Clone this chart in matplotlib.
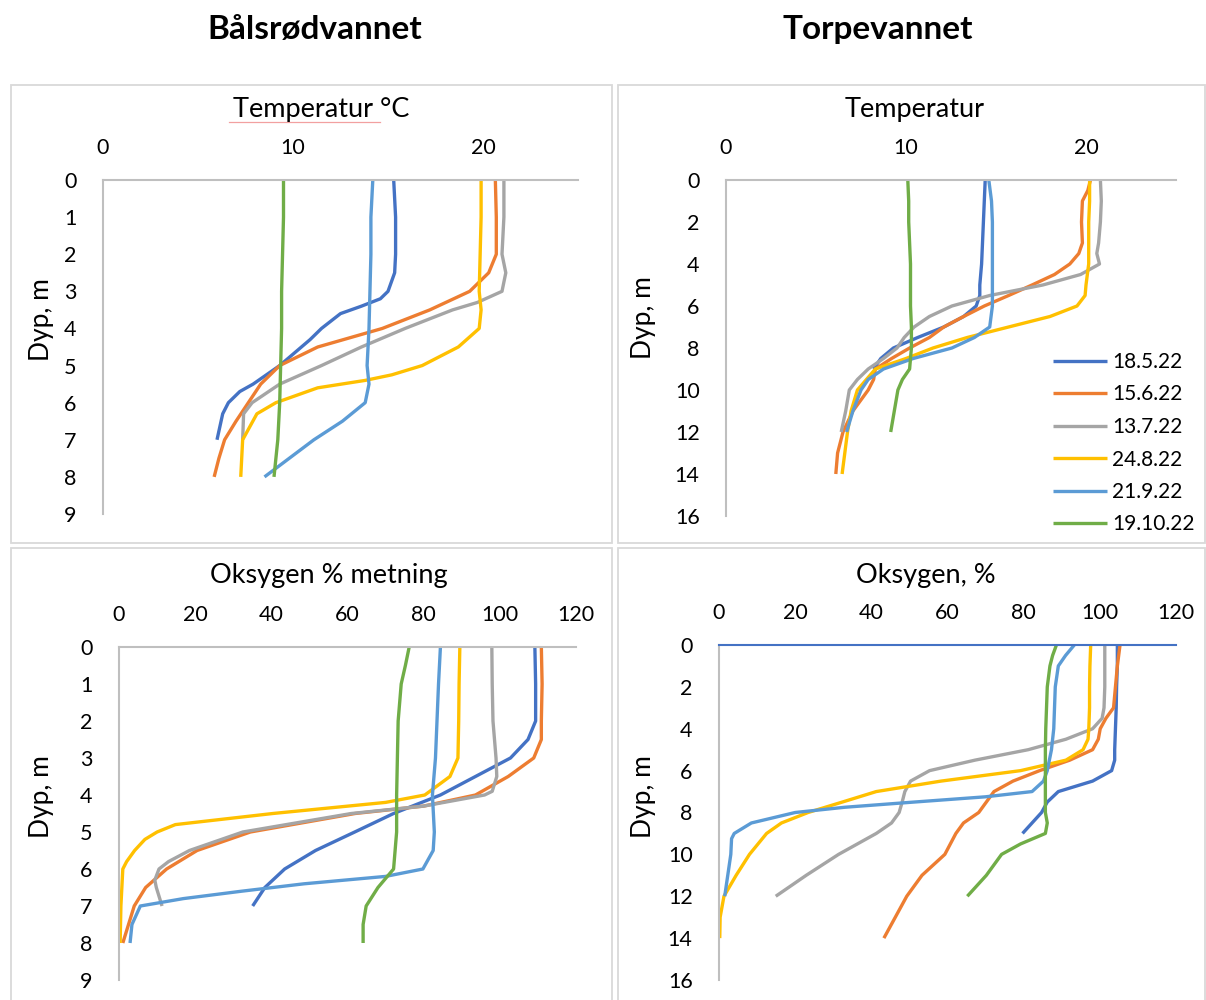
import matplotlib
matplotlib.use("Agg")
import matplotlib.pyplot as plt
from matplotlib.patches import Rectangle
from matplotlib.lines import Line2D

plt.rcParams['font.family'] = ['Lato', 'DejaVu Sans']

dates = ['18.5.22', '15.6.22', '13.7.22', '24.8.22', '21.9.22', '19.10.22']
colors = ['#4472C4', '#ED7D31', '#A5A5A5', '#FFC000', '#5B9BD5', '#70AD47']

# --- Bålsrødvannet, temperatur (depth m, degC) ---
bt_185_z = [0, 1, 2, 2.5, 3, 3.2, 3.4, 3.6, 4, 4.3, 5, 5.5, 5.7, 6, 6.3, 7]
bt_185 = [15.3, 15.4, 15.4, 15.35, 15.0, 14.6, 13.6, 12.5, 11.5, 10.9, 9.3, 7.9, 7.2, 6.6, 6.3, 6.0]
bt_156_z = [0, 1, 2, 2.5, 3, 3.5, 4, 4.5, 5, 5.5, 6, 6.5, 7, 7.5, 8]
bt_156 = [20.65, 20.7, 20.7, 20.3, 19.3, 17.2, 14.7, 11.3, 9.3, 8.3, 7.65, 7.0, 6.4, 6.1, 5.85]
bt_137_z = [0, 1, 2, 2.5, 3, 3.3, 3.5, 4, 4.5, 5, 5.5, 6, 6.3, 7]
bt_137 = [21.1, 21.1, 21.0, 21.2, 21.0, 19.7, 18.4, 15.9, 13.6, 11.5, 9.3, 7.85, 7.4, 7.35]
bt_248_z = [0, 1, 2, 3, 3.5, 4, 4.5, 5, 5.25, 5.4, 5.6, 6, 6.3, 7, 8]
bt_248 = [19.9, 19.9, 19.85, 19.8, 19.9, 19.8, 18.7, 16.8, 15.2, 13.8, 11.3, 9.1, 8.1, 7.35, 7.25]
bt_219_z = [0, 1, 2, 3, 4, 5, 5.5, 6, 6.5, 7, 7.5, 8]
bt_219 = [14.2, 14.1, 14.1, 14.05, 14.0, 13.9, 14.0, 13.8, 12.6, 11.1, 9.8, 8.5]
bt_1910_z = [0, 1, 2, 3, 4, 5, 6, 7, 8]
bt_1910 = [9.5, 9.5, 9.45, 9.4, 9.4, 9.35, 9.3, 9.2, 9.0]

# --- Torpevannet, temperatur ---
tt_185_z = [0, 1, 2, 3, 4, 5, 5.5, 6, 6.5, 7, 7.5, 8, 8.5, 9]
tt_185 = [14.4, 14.35, 14.3, 14.25, 14.2, 14.1, 14.1, 13.9, 13.2, 12.1, 10.65, 9.3, 8.6, 8.2]
tt_156_z = [0, 0.5, 1, 2, 3, 3.5, 4, 4.5, 5, 5.5, 6, 6.5, 7, 7.5, 8, 8.5, 9, 9.5, 10, 11, 12, 13, 14]
tt_156 = [20.25, 20.1, 19.8, 19.75, 19.8, 19.6, 19.1, 18.25, 17.0, 15.7, 14.35, 13.2, 12.1, 11.3,
          10.2, 9.2, 8.3, 8.2, 7.9, 7.05, 6.5, 6.2, 6.1]
tt_137_z = [0, 1, 2, 3, 3.5, 4, 4.5, 5, 5.5, 6, 6.5, 7, 7.5, 8, 8.5, 9, 9.5, 10, 11, 12]
tt_137 = [20.8, 20.85, 20.8, 20.7, 20.6, 20.75, 19.7, 17.6, 14.65, 12.55, 11.3, 10.45, 9.9, 9.5,
          8.75, 7.9, 7.3, 6.85, 6.65, 6.4]
tt_248_z = [0, 1, 2, 3, 4, 5, 5.5, 6, 6.5, 7, 7.5, 8, 8.5, 9, 10, 11, 12, 13, 14]
tt_248 = [20.2, 20.2, 20.15, 20.15, 20.15, 20.0, 19.95, 19.5, 18.0, 15.7, 13.4, 11.5, 10.0, 8.3,
          7.3, 6.95, 6.75, 6.6, 6.45]
tt_219_z = [0, 1, 2, 3, 4, 5, 6, 7, 7.5, 8, 8.5, 9, 9.5, 10, 11, 12]
tt_219 = [14.6, 14.75, 14.8, 14.8, 14.8, 14.8, 14.8, 14.65, 13.8, 12.55, 10.4, 8.75, 7.9, 7.5, 7.05, 6.7]
tt_1910_z = [0, 1, 2, 3, 4, 5, 6, 7, 8, 9, 9.5, 10, 11, 12]
tt_1910 = [10.1, 10.15, 10.15, 10.2, 10.25, 10.25, 10.25, 10.3, 10.3, 10.2, 9.8, 9.55, 9.35, 9.15]

# --- Bålsrødvannet, oksygen % metning ---
bo_185_z = [0, 1, 2, 2.5, 3, 3.5, 4, 4.5, 5, 5.5, 6, 6.5, 7]
bo_185 = [109.2, 109.4, 109.4, 107.4, 102.8, 93.6, 84.4, 72.1, 61.9, 51.6, 43.5, 38.3, 35.1]
bo_156_z = [0, 1, 2, 2.5, 3, 3.5, 4, 4.3, 4.5, 5, 5.5, 6, 6.5, 7, 7.5, 8]
bo_156 = [110.9, 111.1, 110.9, 110.9, 108.9, 102.2, 93.6, 80.0, 62.0, 34.5, 20.5, 12.5, 7.0, 4.0, 2.5, 1.0]
bo_137_z = [0, 1, 2, 3, 3.5, 3.9, 4, 4.3, 4.5, 5, 5.5, 5.8, 6, 6.3, 6.5, 7]
bo_137 = [97.9, 98.0, 98.2, 99.0, 99.2, 98.0, 96.0, 80.0, 61.0, 32.5, 18.5, 13.0, 10.5, 9.4, 9.8, 11.3]
bo_248_z = [0, 1, 2, 3, 3.5, 4, 4.2, 4.5, 4.8, 5, 5.2, 5.5, 5.8, 6, 7, 8]
bo_248 = [89.5, 89.3, 89.2, 89.0, 86.9, 80.3, 70.0, 40.4, 14.8, 10.0, 6.8, 4.1, 2.0, 1.0, 0.5, 0.3]
bo_219_z = [0, 1, 2, 3, 4, 5, 5.5, 6, 6.2, 6.4, 6.6, 6.8, 7, 7.5, 8]
bo_219 = [84.4, 83.9, 83.5, 83.1, 82.3, 82.8, 82.5, 79.8, 70.0, 48.6, 32.2, 16.9, 5.6, 3.4, 2.9]
bo_1910_z = [0, 0.5, 1, 2, 3, 4, 5, 6, 6.5, 7, 7.5, 8]
bo_1910 = [76.2, 75.2, 74.1, 73.3, 73.1, 72.9, 72.9, 72.1, 68.0, 64.9, 64.1, 64.1]

# --- Torpevannet, oksygen % ---
to_185_z = [0, 1, 2, 3, 4, 5, 5.5, 6, 6.5, 7, 7.5, 8, 8.5, 9]
to_185 = [104.6, 104.6, 104.4, 104.3, 104.1, 103.9, 103.9, 103.1, 98.1, 89.1, 86.2, 84.7, 82.2, 79.7]
to_156_z = [0, 1, 2, 3, 3.5, 4, 4.5, 5, 5.5, 6, 6.5, 7, 7.5, 8, 8.5, 9, 10, 11, 12, 13, 14]
to_156 = [105.3, 104.6, 104.1, 103.6, 101.6, 100.1, 99.6, 98.1, 92.1, 84.2, 77.2, 72.2, 70.2, 68.2,
          64.2, 62.2, 59.3, 53.3, 49.3, 46.3, 43.3]
to_137_z = [0, 1, 2, 3, 3.5, 4, 4.5, 5, 5.5, 6, 6.5, 7, 7.5, 8, 8.5, 9, 10, 11, 12]
to_137 = [101.3, 101.3, 101.3, 101.1, 100.6, 98.1, 91.1, 81.2, 67.2, 55.3, 50.3, 48.8, 48.1, 47.3,
          45.3, 41.3, 31.4, 22.9, 14.9]
to_248_z = [0, 1, 2, 3, 4, 4.5, 5, 5.5, 6, 6.5, 7, 7.5, 8, 8.5, 9, 10, 11, 12, 13, 14]
to_248 = [97.6, 97.4, 97.3, 97.3, 97.1, 96.9, 95.6, 91.1, 79.2, 58.3, 41.3, 32.4, 23.4, 16.4, 12.5,
          8.0, 4.5, 1.3, 0.3, 0.2]
to_219_z = [0, 0.5, 1, 2, 3, 4, 5, 6, 6.5, 7, 7.25, 7.5, 7.75, 8, 8.5, 9, 9.25, 10, 11, 12]
to_219 = [93.3, 91.0, 89.1, 88.3, 88.1, 87.9, 87.3, 86.2, 85.2, 82.2, 70.0, 51.3, 33.0, 20.0, 8.5,
          4.0, 3.3, 3.1, 2.3, 1.5]
to_1910_z = [0, 0.5, 1, 2, 3, 4, 5, 6, 7, 8, 8.5, 9, 9.5, 10, 11, 12]
to_1910 = [88.6, 87.6, 86.9, 86.2, 86.0, 85.8, 85.7, 85.7, 85.7, 85.7, 86.2, 85.7, 79.2, 74.2, 70.2, 65.2]

W, H = 1206, 1000
fig = plt.figure(figsize=(W / 100, H / 100), dpi=100)


def fx(px):
    return px / W


def fy(py):
    return 1 - py / H


# panel frames
for x0, y0, x1, y1 in [(11, 85, 612, 543), (618, 85, 1205, 543),
                       (11, 548, 612, 1005), (618, 548, 1205, 1005)]:
    fig.add_artist(Rectangle((fx(x0), fy(y1)), fx(x1 - x0), (y1 - y0) / H,
                             transform=fig.transFigure, fill=False,
                             edgecolor='#D9D9D9', lw=1.3))


def make_axes(left, right, top, bottom, xmax, ymax, xticks, ystep, series, title, tx, ty, lx, ly,
              top_color='#BFBFBF'):
    ax = fig.add_axes([fx(left), fy(bottom), fx(right - left), (bottom - top) / H])
    for (z, v), c, lab in zip(series, colors, dates):
        ax.plot(v, z, color=c, lw=2.4, label=lab, solid_capstyle='butt', solid_joinstyle='round')
    ax.set_xlim(0, xmax)
    ax.set_ylim(ymax, 0)
    ax.set_xticks(xticks)
    ax.set_yticks(range(0, ymax + 1, ystep))
    ax.xaxis.tick_top()
    ax.tick_params(length=0, labelsize=15.5, colors='#000000')
    ax.tick_params(axis='x', pad=16)
    ax.tick_params(axis='y', pad=19)
    for s in ['right', 'bottom']:
        ax.spines[s].set_visible(False)
    ax.spines['left'].set_color('#BFBFBF')
    ax.spines['left'].set_linewidth(1.5)
    ax.spines['top'].set_color(top_color)
    ax.spines['top'].set_linewidth(1.5)
    ax.patch.set_alpha(0)
    fig.text(fx(tx), fy(ty), title, ha='center', va='center', fontsize=19.5)
    fig.text(fx(lx), fy(ly), 'Dyp, m', ha='center', va='center', rotation=90, fontsize=19)
    return ax


make_axes(103, 578, 180, 514, 25, 9, [0, 10, 20], 1,
          [(bt_185_z, bt_185), (bt_156_z, bt_156), (bt_137_z, bt_137),
           (bt_248_z, bt_248), (bt_219_z, bt_219), (bt_1910_z, bt_1910)],
          'Temperatur °C', 321, 110, 42, 320)
# spell-check underline seen under the first title
fig.add_artist(Line2D([fx(229), fx(380)], [fy(122), fy(122)], transform=fig.transFigure,
                      color='#F2A0A0', lw=0.9))

ax2 = make_axes(726, 1176, 180, 516, 25, 16, [0, 10, 20], 2,
                [(tt_185_z, tt_185), (tt_156_z, tt_156), (tt_137_z, tt_137),
                 (tt_248_z, tt_248), (tt_219_z, tt_219), (tt_1910_z, tt_1910)],
                'Temperatur', 915, 110, 644, 318)

make_axes(119, 576, 647, 980, 120, 9, range(0, 121, 20), 1,
          [(bo_185_z, bo_185), (bo_156_z, bo_156), (bo_137_z, bo_137),
           (bo_248_z, bo_248), (bo_219_z, bo_219), (bo_1910_z, bo_1910)],
          'Oksygen % metning', 329, 576, 41, 797)

make_axes(719, 1176, 645, 980, 120, 16, range(0, 121, 20), 2,
          [(to_185_z, to_185), (to_156_z, to_156), (to_137_z, to_137),
           (to_248_z, to_248), (to_219_z, to_219), (to_1910_z, to_1910)],
          'Oksygen, %', 926, 576, 644, 797, top_color='#4472C4')

ax2.legend(loc='upper left', bbox_to_anchor=(fx(1053), fy(352)), bbox_transform=fig.transFigure,
           frameon=False, fontsize=15, handlelength=2.6, handletextpad=0.25, labelspacing=0.6,
           borderaxespad=0, borderpad=0)

fig.text(fx(315), fy(30), 'Bålsrødvannet', ha='center', va='center', fontsize=24, fontweight='bold')
fig.text(fx(878), fy(30), 'Torpevannet', ha='center', va='center', fontsize=24, fontweight='bold')

fig.savefig('out.png', dpi=100)
